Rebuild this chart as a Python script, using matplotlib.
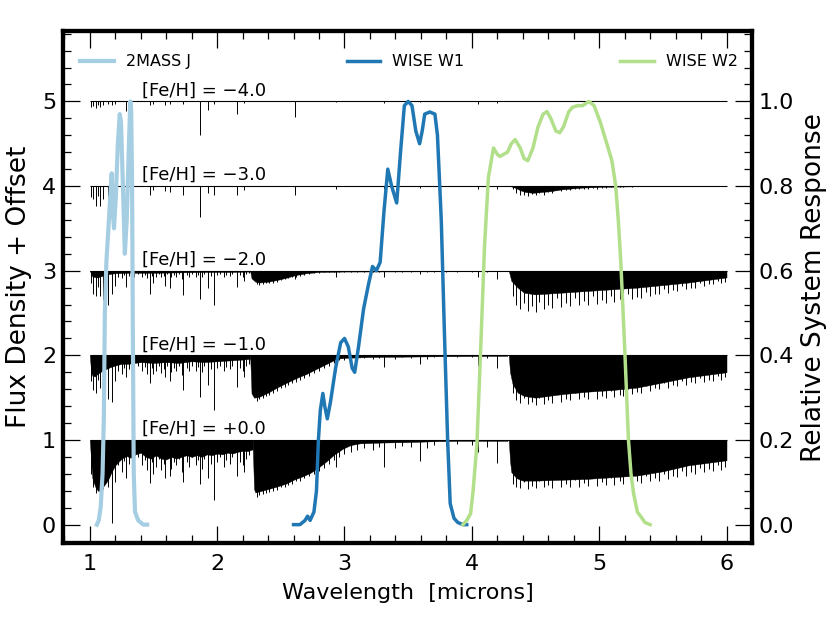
import matplotlib
matplotlib.use("Agg")
import matplotlib.pyplot as plt
from matplotlib.ticker import MultipleLocator

# filter response curves (relative system response, 0-1)
j_wl = [1.055, 1.07, 1.085, 1.10, 1.11, 1.118, 1.13, 1.15, 1.165, 1.172, 1.18, 1.19,
        1.205, 1.22, 1.235, 1.245, 1.26, 1.275, 1.29, 1.305, 1.318, 1.325, 1.332,
        1.338, 1.345, 1.355, 1.38, 1.42, 1.45]
j_resp = [0.0, 0.01, 0.04, 0.12, 0.25, 0.50, 0.62, 0.72, 0.80, 0.83, 0.74, 0.70,
          0.78, 0.90, 0.97, 0.95, 0.80, 0.64, 0.72, 0.88, 1.0, 0.98, 0.80,
          0.45, 0.12, 0.03, 0.01, 0.0, 0.0]

w1_wl = [2.60, 2.65, 2.69, 2.71, 2.73, 2.76, 2.78, 2.795, 2.81, 2.83, 2.845, 2.865,
         2.89, 2.93, 2.97, 3.00, 3.03, 3.06, 3.08, 3.11, 3.15, 3.19, 3.22, 3.25,
         3.28, 3.31, 3.34, 3.37, 3.41, 3.44, 3.47, 3.50, 3.53, 3.56, 3.59, 3.61,
         3.63, 3.67, 3.71, 3.73, 3.76, 3.785, 3.81, 3.83, 3.86, 3.89, 3.93, 3.96]
w1_resp = [0.0, 0.0, 0.01, 0.02, 0.01, 0.03, 0.08, 0.20, 0.27, 0.31, 0.28, 0.25,
           0.29, 0.37, 0.43, 0.44, 0.42, 0.37, 0.36, 0.42, 0.51, 0.57, 0.61, 0.60,
           0.62, 0.74, 0.84, 0.80, 0.76, 0.88, 0.99, 1.0, 0.99, 0.93, 0.90, 0.93,
           0.97, 0.975, 0.97, 0.92, 0.72, 0.45, 0.20, 0.05, 0.015, 0.005, 0.0, 0.0]

w2_wl = [3.93, 3.96, 3.99, 4.01, 4.04, 4.07, 4.10, 4.13, 4.17, 4.20, 4.22, 4.25,
         4.28, 4.31, 4.34, 4.38, 4.41, 4.44, 4.48, 4.52, 4.56, 4.59, 4.62, 4.66,
         4.69, 4.72, 4.76, 4.79, 4.83, 4.87, 4.92, 4.96, 5.01, 5.06, 5.10, 5.13,
         5.15, 5.17, 5.20, 5.23, 5.25, 5.27, 5.30, 5.33, 5.36, 5.40]
w2_resp = [0.0, 0.01, 0.026, 0.08, 0.19, 0.42, 0.66, 0.82, 0.89, 0.875, 0.87, 0.875,
           0.88, 0.90, 0.91, 0.89, 0.865, 0.86, 0.89, 0.94, 0.97, 0.976, 0.96, 0.93,
           0.926, 0.94, 0.975, 0.986, 0.99, 0.99, 1.0, 0.99, 0.95, 0.90, 0.86, 0.80,
           0.72, 0.62, 0.42, 0.20, 0.12, 0.074, 0.03, 0.018, 0.005, 0.0]

# model spectra: [Fe/H], offsets, continuum range
feh_labels = ["[Fe/H] = +0.0", "[Fe/H] = \u22121.0", "[Fe/H] = \u22122.0",
              "[Fe/H] = \u22123.0", "[Fe/H] = \u22124.0"]
offsets = [0, 1, 2, 3, 4]
spec_start, spec_end = 1.0, 6.0

# solid part of the absorption (normalised flux), per spectrum
bands = {
    0: [
        ([1.00, 1.01, 1.02, 1.03, 1.05, 1.07, 1.09, 1.11, 1.13, 1.15, 1.17, 1.20,
          1.23, 1.26, 1.29, 1.32, 1.36, 1.40, 1.44, 1.48, 1.52, 1.56, 1.60, 1.64,
          1.68, 1.72, 1.76, 1.80, 1.84, 1.88, 1.92, 1.96, 2.00, 2.04, 2.08, 2.12,
          2.16, 2.20, 2.24, 2.28],
         [1.0, 0.75, 0.55, 0.50, 0.42, 0.40, 0.42, 0.46, 0.50, 0.55, 0.62, 0.70,
          0.75, 0.79, 0.81, 0.79, 0.83, 0.85, 0.80, 0.78, 0.82, 0.78, 0.77, 0.80,
          0.78, 0.80, 0.82, 0.80, 0.82, 0.80, 0.83, 0.82, 0.84, 0.83, 0.85, 0.84,
          0.86, 0.87, 0.87, 0.89]),
        ([2.28, 2.29, 2.30, 2.35, 2.40, 2.47, 2.55, 2.60, 2.67, 2.73, 2.80, 2.86,
          2.92, 2.99, 3.05, 3.12, 3.30, 3.50, 3.70, 3.90, 4.10, 4.28],
         [0.89, 0.42, 0.38, 0.40, 0.42, 0.45, 0.49, 0.53, 0.57, 0.61, 0.68, 0.75,
          0.83, 0.90, 0.94, 0.96, 0.97, 0.975, 0.985, 0.99, 0.99, 0.99]),
        ([4.29, 4.30, 4.31, 4.35, 4.40, 4.50, 4.70, 4.90, 5.10, 5.30, 5.50, 5.70,
          5.90, 6.00],
         [1.0, 0.75, 0.62, 0.55, 0.52, 0.52, 0.53, 0.54, 0.56, 0.58, 0.63, 0.70,
          0.74, 0.76]),
    ],
    1: [
        ([1.00, 1.01, 1.02, 1.04, 1.06, 1.08, 1.10, 1.13, 1.16, 1.20, 1.25, 1.30,
          1.40, 1.50, 1.60, 1.70, 1.80, 1.90, 2.00, 2.10, 2.20, 2.26],
         [1.0, 0.80, 0.76, 0.75, 0.78, 0.80, 0.82, 0.84, 0.86, 0.88, 0.90, 0.90,
          0.92, 0.91, 0.92, 0.91, 0.93, 0.92, 0.93, 0.94, 0.95, 0.96]),
        ([2.26, 2.27, 2.29, 2.33, 2.40, 2.47, 2.55, 2.62, 2.70, 2.78, 2.86, 2.94,
          3.00, 3.20, 3.50, 3.80, 4.28],
         [0.96, 0.55, 0.50, 0.51, 0.56, 0.62, 0.68, 0.73, 0.78, 0.84, 0.90, 0.96,
          0.97, 0.98, 0.985, 0.99, 0.995]),
        ([4.29, 4.30, 4.32, 4.36, 4.41, 4.50, 4.70, 4.90, 5.10, 5.30, 5.50, 5.70,
          5.90, 6.00],
         [1.0, 0.80, 0.66, 0.56, 0.52, 0.50, 0.54, 0.57, 0.59, 0.62, 0.68, 0.74,
          0.78, 0.80]),
    ],
    2: [
        ([1.00, 1.02, 1.06, 1.10, 1.15, 1.20, 1.30, 1.50, 1.70, 1.90, 2.10, 2.26],
         [1.0, 0.93, 0.92, 0.94, 0.96, 0.97, 0.975, 0.975, 0.98, 0.985, 0.985, 0.99]),
        ([2.26, 2.27, 2.30, 2.33, 2.40, 2.47, 2.55, 2.62, 2.70, 2.80, 3.00, 4.28],
         [0.99, 0.91, 0.87, 0.86, 0.87, 0.89, 0.92, 0.95, 0.97, 0.985, 0.99, 0.995]),
        ([4.29, 4.31, 4.36, 4.41, 4.50, 4.70, 4.90, 5.10, 5.30, 5.50, 5.70, 5.90,
          6.00],
         [1.0, 0.88, 0.80, 0.74, 0.72, 0.74, 0.76, 0.78, 0.80, 0.83, 0.86, 0.90,
          0.92]),
    ],
    3: [
        ([4.30, 4.34, 4.38, 4.42, 4.48, 4.55, 4.62, 4.70, 4.85, 5.00, 5.20, 5.40],
         [1.0, 0.98, 0.95, 0.93, 0.92, 0.93, 0.94, 0.96, 0.98, 0.99, 0.995, 1.0]),
    ],
    4: [],
}

# individual strong lines: wavelength and minimum flux per spectrum
line_wl = [1.013, 1.026, 1.05, 1.066, 1.08, 1.105, 1.144, 1.178, 1.20, 1.288,
           1.472, 1.50, 1.59, 1.629, 1.734, 1.865, 1.93, 1.975, 2.153, 2.21,
           2.61, 2.93, 3.31, 3.59, 4.05, 4.20]
line_depth = {
    0: [0.60, 0.45, 0.37, 0.40, 0.38, 0.42, 0.45, 0.02, 0.50, 0.55, 0.49, 0.60,
        0.55, 0.58, 0.50, 0.48, 0.55, 0.29, 0.58, 0.62, 0.60, 0.68, 0.68, 0.75,
        0.86, 0.73],
    1: [0.70, 0.59, 0.55, 0.71, 0.62, 0.55, 0.49, 0.45, 0.70, 0.75, 0.67, 0.78,
        0.74, 0.70, 0.59, 0.51, 0.65, 0.36, 0.63, 0.75, 0.85, 0.82, 0.86, 0.90,
        0.88, 0.85],
    2: [0.85, 0.73, 0.70, 0.81, 0.70, 0.65, 0.59, 0.72, 0.82, 0.81, 0.73, 0.85,
        0.82, 0.80, 0.71, 0.67, 0.80, 0.59, 0.81, 0.88, 0.90, 0.92, 0.93, 0.96,
        0.92, 0.90],
    3: [0.87, 0.85, 0.77, 0.88, 0.77, 0.85, 0.88, 0.87, 0.92, 0.83, 0.90, 0.95,
        0.94, 0.93, 0.90, 0.64, 0.92, 0.90, 0.89, 0.95, 0.89, 0.97, 0.97, 0.98,
        0.96, 0.97],
    4: [0.93, 0.95, 0.92, 0.96, 0.93, 0.96, 0.97, 0.96, 0.97, 0.89, 0.96, 0.97,
        0.96, 0.97, 0.97, 0.60, 0.90, 0.97, 0.85, 0.98, 0.82, 0.99, 0.98, 0.99,
        0.97, 0.98],
}

# weaker lines of the forests (1.2-2.3, 2.3-4.2 and 4.3-6.0 microns)
forest_a_wl = [1.22, 1.25, 1.27, 1.31, 1.33, 1.35, 1.38, 1.41, 1.43, 1.45, 1.49,
               1.52, 1.54, 1.56, 1.58, 1.61, 1.64, 1.66, 1.68, 1.70, 1.72, 1.76,
               1.78, 1.80, 1.83, 1.85, 1.88, 1.90, 1.95, 2.00, 2.02, 2.05, 2.07,
               2.10, 2.12, 2.18, 2.20, 2.23, 2.25]
forest_a = {
    0: [0.70, 0.62, 0.75, 0.72, 0.78, 0.66, 0.80, 0.70, 0.76, 0.64, 0.74, 0.68,
        0.78, 0.65, 0.72, 0.80, 0.66, 0.74, 0.70, 0.78, 0.62, 0.74, 0.68, 0.80,
        0.70, 0.76, 0.66, 0.78, 0.72, 0.74, 0.80, 0.68, 0.76, 0.72, 0.80, 0.74,
        0.70, 0.78, 0.82],
    1: [0.82, 0.78, 0.85, 0.84, 0.87, 0.80, 0.88, 0.82, 0.86, 0.78, 0.85, 0.81,
        0.87, 0.79, 0.84, 0.88, 0.80, 0.85, 0.82, 0.87, 0.77, 0.85, 0.81, 0.88,
        0.82, 0.86, 0.80, 0.87, 0.84, 0.85, 0.88, 0.81, 0.86, 0.84, 0.88, 0.85,
        0.82, 0.87, 0.90],
    2: [0.93, 0.91, 0.95, 0.94, 0.96, 0.92, 0.96, 0.93, 0.95, 0.91, 0.94, 0.93,
        0.96, 0.92, 0.94, 0.96, 0.92, 0.95, 0.93, 0.96, 0.90, 0.95, 0.93, 0.96,
        0.93, 0.95, 0.92, 0.96, 0.94, 0.95, 0.96, 0.93, 0.95, 0.94, 0.96, 0.95,
        0.93, 0.96, 0.97],
}
forest_b_wl = [2.31, 2.33, 2.36, 2.38, 2.41, 2.44, 2.47, 2.50, 2.53, 2.56, 2.59,
               2.62, 2.65, 2.68, 2.72, 2.76, 2.80, 2.84, 2.88, 2.92, 2.96, 3.00,
               3.05, 3.10, 3.15, 3.22, 3.27, 3.40, 3.45, 3.52, 3.65, 3.70, 3.80,
               3.88, 4.00, 4.12]
forest_b = {
    0: [0.33, 0.35, 0.36, 0.37, 0.38, 0.40, 0.41, 0.44, 0.45, 0.47, 0.48, 0.51,
        0.52, 0.55, 0.57, 0.60, 0.63, 0.67, 0.72, 0.76, 0.80, 0.84, 0.86, 0.88,
        0.90, 0.88, 0.92, 0.90, 0.93, 0.92, 0.90, 0.94, 0.93, 0.95, 0.94, 0.92],
    1: [0.46, 0.48, 0.50, 0.52, 0.53, 0.56, 0.58, 0.61, 0.63, 0.65, 0.67, 0.69,
        0.71, 0.73, 0.76, 0.79, 0.82, 0.85, 0.88, 0.91, 0.94, 0.95, 0.96, 0.95,
        0.97, 0.96, 0.97, 0.96, 0.98, 0.97, 0.96, 0.98, 0.97, 0.98, 0.98, 0.97],
    2: [0.84, 0.83, 0.84, 0.85, 0.85, 0.86, 0.87, 0.89, 0.90, 0.91, 0.92, 0.93,
        0.94, 0.95, 0.96, 0.97, 0.97, 0.98, 0.98, 0.99, 0.99, 0.99, 0.99, 0.99,
        0.99, 0.99, 0.99, 0.99, 0.99, 0.99, 0.99, 0.99, 0.99, 0.99, 0.99, 0.99],
}
forest_c_wl = [4.32, 4.35, 4.38, 4.41, 4.44, 4.47, 4.50, 4.53, 4.57, 4.60, 4.63,
               4.67, 4.70, 4.74, 4.77, 4.81, 4.84, 4.88, 4.91, 4.95, 4.98, 5.02,
               5.05, 5.09, 5.12, 5.16, 5.19, 5.23, 5.26, 5.30, 5.33, 5.37, 5.40,
               5.44, 5.47, 5.51, 5.54, 5.58, 5.61, 5.65, 5.68, 5.72, 5.75, 5.79,
               5.82, 5.86, 5.89, 5.93, 5.96, 5.99]
forest_c = {
    0: [0.48, 0.44, 0.43, 0.50, 0.42, 0.46, 0.43, 0.52, 0.44, 0.47, 0.43, 0.55,
        0.44, 0.48, 0.45, 0.53, 0.45, 0.49, 0.46, 0.56, 0.46, 0.50, 0.47, 0.55,
        0.47, 0.51, 0.48, 0.58, 0.48, 0.52, 0.49, 0.57, 0.51, 0.55, 0.52, 0.60,
        0.54, 0.58, 0.56, 0.63, 0.58, 0.62, 0.60, 0.67, 0.62, 0.66, 0.63, 0.70,
        0.65, 0.68],
    1: [0.55, 0.47, 0.44, 0.50, 0.42, 0.45, 0.41, 0.50, 0.43, 0.47, 0.44, 0.55,
        0.45, 0.49, 0.47, 0.55, 0.48, 0.51, 0.49, 0.58, 0.49, 0.52, 0.50, 0.58,
        0.51, 0.53, 0.52, 0.60, 0.54, 0.57, 0.56, 0.64, 0.58, 0.61, 0.60, 0.67,
        0.62, 0.65, 0.64, 0.70, 0.65, 0.68, 0.67, 0.73, 0.68, 0.71, 0.70, 0.76,
        0.71, 0.74],
    2: [0.70, 0.60, 0.55, 0.62, 0.52, 0.58, 0.51, 0.63, 0.55, 0.60, 0.56, 0.68,
        0.57, 0.62, 0.58, 0.68, 0.59, 0.64, 0.60, 0.70, 0.61, 0.65, 0.62, 0.70,
        0.63, 0.66, 0.64, 0.72, 0.66, 0.69, 0.68, 0.75, 0.70, 0.73, 0.72, 0.78,
        0.74, 0.77, 0.76, 0.82, 0.78, 0.80, 0.80, 0.85, 0.82, 0.84, 0.84, 0.88,
        0.85, 0.87],
    3: [0.96, 0.92, 0.89, 0.90, 0.88, 0.91, 0.89, 0.92, 0.90, 0.93, 0.92, 0.95,
        0.94, 0.95, 0.95, 0.97, 0.96, 0.97, 0.97, 0.98, 0.97, 0.98, 0.98, 0.99,
        0.98, 0.99, 0.99, 0.995, 0.99, 0.995, 0.995, 1.0, 1.0, 1.0, 1.0, 1.0,
        1.0, 1.0, 1.0, 1.0, 1.0, 1.0, 1.0, 1.0, 1.0, 1.0, 1.0, 1.0, 1.0, 1.0],
}

plt.rcParams['font.family'] = ['DejaVu Sans']

fig = plt.figure(figsize=(8.3, 6.23), dpi=100)
ax = fig.add_axes([0.076, 0.128, 0.830, 0.822])

for i, off in enumerate(offsets):
    ax.hlines(off + 1, spec_start, spec_end, color='k', lw=0.8)
    for wl, fl in bands[i]:
        ax.fill_between(wl, [off + f for f in fl], off + 1, color='k', lw=0.3)
    ax.vlines(line_wl, [off + d for d in line_depth[i]], off + 1, color='k', lw=0.7)
    for fwl, fdict in ((forest_a_wl, forest_a), (forest_b_wl, forest_b),
                       (forest_c_wl, forest_c)):
        if i in fdict:
            ax.vlines(fwl, [off + d for d in fdict[i]], off + 1, color='k', lw=0.7)
    ax.text(1.41, off + 1.07, feh_labels[i], fontsize=13, ha='left', va='baseline')

ax.set_xlim(0.79, 6.2)
ax.set_ylim(-0.22, 5.83)
ax.set_xticks(range(1, 7))
ax.set_yticks(range(0, 6))
ax.xaxis.set_minor_locator(MultipleLocator(0.2))
ax.yaxis.set_minor_locator(MultipleLocator(0.2))
ax.tick_params(which='both', direction='in', top=True, right=False, width=0.9)
ax.tick_params(which='major', length=12, labelsize=16, pad=5)
ax.tick_params(which='minor', length=6)
ax.tick_params(axis='x', which='major', pad=8)
ax.set_xlabel("Wavelength  [microns]", fontsize=16, labelpad=6)
ax.set_ylabel("Flux Density + Offset", fontsize=19, labelpad=7)

ax2 = ax.twinx()
ax2.plot(j_wl, j_resp, color='#a6cee3', lw=3, solid_joinstyle='round', label='2MASS J')
ax2.plot(w1_wl, w1_resp, color='#1f78b4', lw=2.5, solid_joinstyle='round', label='WISE W1')
ax2.plot(w2_wl, w2_resp, color='#b2df8a', lw=2.5, solid_joinstyle='round', label='WISE W2')
ax2.set_ylim(-0.044, 1.166)
ax2.set_yticks([0.0, 0.2, 0.4, 0.6, 0.8, 1.0])
ax2.set_yticklabels(["0.0", "0.2", "0.4", "0.6", "0.8", "1.0"])
ax2.yaxis.set_minor_locator(MultipleLocator(0.04))
ax2.tick_params(which='both', direction='in', width=0.9)
ax2.tick_params(which='major', length=12, labelsize=16, pad=5)
ax2.tick_params(which='minor', length=6)
ax2.set_ylabel("Relative System Response", fontsize=19, labelpad=5)

for a in (ax, ax2):
    for s in a.spines.values():
        s.set_linewidth(3)

ax2.legend(loc='center', bbox_to_anchor=(0.0247, 0.915, 0.955, 0.05), mode='expand',
           ncol=3, frameon=False, fontsize=11.5, handlelength=2.1,
           handletextpad=0.75, borderpad=0, borderaxespad=0)

fig.savefig("out.png", dpi=100)
